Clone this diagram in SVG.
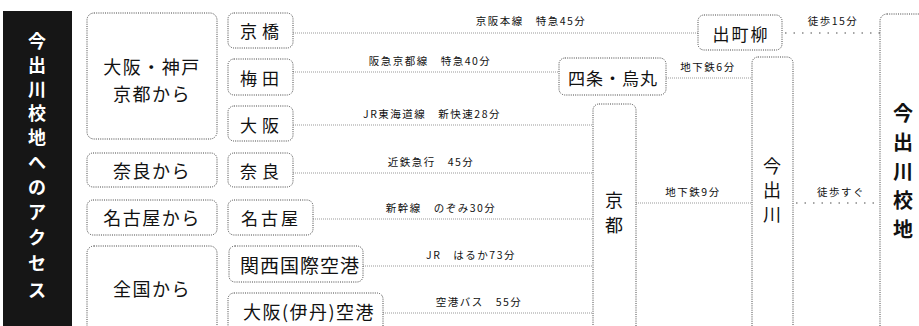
<svg xmlns="http://www.w3.org/2000/svg" width="919" height="326" viewBox="0 0 919 326">
<style>
text{font-family:"Noto Sans CJK JP","Noto Sans",sans-serif;fill:#111;}
.box{fill:#fff;stroke:#444;stroke-width:1;stroke-dasharray:1 1.2;}
.t{font-size:17px;text-anchor:middle;dominant-baseline:central;letter-spacing:1px;}
.t2{font-size:17px;text-anchor:middle;dominant-baseline:central;letter-spacing:5px;}
.big{font-size:18px;text-anchor:middle;dominant-baseline:central;letter-spacing:1.5px;}
.v{font-size:18px;text-anchor:middle;dominant-baseline:central;}
.lbl{font-size:10.5px;text-anchor:middle;letter-spacing:1.5px;}
.ln{stroke:#999;stroke-width:1.2;stroke-dasharray:1 1;fill:none;}
.walk{stroke:#888;stroke-width:1.5;stroke-dasharray:1.5 7;fill:none;}
.title{font-size:18px;fill:#fff;text-anchor:middle;dominant-baseline:central;font-weight:bold;}
</style>
<rect width="919" height="326" fill="#fff"/>
<g id="title">
<rect x="3" y="11" width="69" height="320" fill="#161616"/>
<text class="title" x="37" y="40">今</text>
<text class="title" x="37" y="64">出</text>
<text class="title" x="37" y="88">川</text>
<text class="title" x="37" y="112">校</text>
<text class="title" x="37" y="136">地</text>
<text class="title" x="37" y="161">へ</text>
<text class="title" x="37" y="186">の</text>
<text class="title" x="37" y="211">ア</text>
<text class="title" x="37" y="236">ク</text>
<text class="title" x="37" y="262">セ</text>
<text class="title" x="37" y="289">ス</text>
</g>
<g id="connectors">
<line class="ln" x1="293" y1="33" x2="698" y2="33"/>
<text class="lbl" x="531" y="25">京阪本線　特急45分</text>
<line class="ln" x1="293" y1="72" x2="559" y2="72"/>
<text class="lbl" x="430" y="65">阪急京都線　特急40分</text>
<line class="ln" x1="293" y1="125" x2="593" y2="125"/>
<text class="lbl" x="432" y="118">JR東海道線　新快速28分</text>
<line class="ln" x1="293" y1="173" x2="593" y2="173"/>
<text class="lbl" x="431" y="166">近鉄急行　45分</text>
<line class="ln" x1="313" y1="219" x2="593" y2="219"/>
<text class="lbl" x="441" y="212">新幹線　のぞみ30分</text>
<line class="ln" x1="363" y1="266" x2="593" y2="266"/>
<text class="lbl" x="471" y="259">JR　はるか73分</text>
<line class="ln" x1="383" y1="313" x2="593" y2="313"/>
<text class="lbl" x="479" y="306">空港バス　55分</text>
<line class="ln" x1="666" y1="78" x2="752" y2="78"/>
<text class="lbl" x="708" y="71">地下鉄6分</text>
<line class="ln" x1="636" y1="203" x2="752" y2="203"/>
<text class="lbl" x="693" y="196">地下鉄9分</text>
<line class="walk" x1="785" y1="33" x2="880" y2="33"/>
<text class="lbl" x="833" y="25">徒歩15分</text>
<line class="walk" x1="796" y1="203" x2="880" y2="203"/>
<text class="lbl" x="841" y="196">徒歩すぐ</text>
</g>
<g id="from-osaka"><rect class="box" x="87" y="13" width="130" height="126" rx="7"/>
<text class="big" x="152" y="66">大阪・神戸</text><text class="big" x="152" y="93">京都から</text></g>
<g id="from-nara"><rect class="box" x="87" y="153" width="130" height="34" rx="6"/><text class="big" x="152" y="170">奈良から</text></g>
<g id="from-nagoya"><rect class="box" x="87" y="200" width="130" height="35" rx="6"/><text class="big" x="152" y="217">名古屋から</text></g>
<g id="from-all"><rect class="box" x="87" y="246" width="130" height="90" rx="7"/><text class="big" x="152" y="288">全国から</text></g>
<g id="keihashi"><rect class="box" x="228" y="13" width="65" height="35" rx="6"/><text class="t2" x="262" y="30">京橋</text></g>
<g id="umeda"><rect class="box" x="228" y="59" width="65" height="36" rx="6"/><text class="t2" x="262" y="77">梅田</text></g>
<g id="osaka"><rect class="box" x="228" y="106" width="65" height="35" rx="6"/><text class="t2" x="262" y="124">大阪</text></g>
<g id="nara"><rect class="box" x="228" y="153" width="65" height="34" rx="6"/><text class="t2" x="262" y="170">奈良</text></g>
<g id="nagoya"><rect class="box" x="228" y="200" width="85" height="35" rx="6"/><text class="t" x="271" y="217" style="letter-spacing:3px">名古屋</text></g>
<g id="kix"><rect class="box" x="229" y="246" width="134" height="36" rx="6"/><text class="t" x="300" y="264" style="font-size:19px">関西国際空港</text></g>
<g id="itami"><rect class="box" x="228" y="293" width="155" height="40" rx="6"/><text class="t" x="309" y="311" style="font-size:18px;letter-spacing:1.5px">大阪(伊丹)空港</text></g>
<g id="shijo"><rect class="box" x="559" y="58" width="107" height="37" rx="6"/><text class="t" x="613" y="77">四条・烏丸</text></g>
<g id="demachi"><rect class="box" x="698" y="15" width="84" height="35" rx="6"/><text class="t" x="741" y="33" style="letter-spacing:2px">出町柳</text></g>
<g id="kyoto"><rect class="box" x="593" y="104" width="43" height="232" rx="6"/><text class="v" x="614" y="199">京</text><text class="v" x="614" y="224">都</text></g>
<g id="imadegawa"><rect class="box" x="752" y="57" width="41" height="279" rx="6"/><text class="v" x="772" y="165">今</text><text class="v" x="772" y="189">出</text><text class="v" x="772" y="213">川</text></g>
<g id="campus"><rect class="box" x="880" y="14" width="50" height="322" rx="7"/>
<text class="v" x="903" y="112" style="font-size:20px;font-weight:bold">今</text><text class="v" x="903" y="141" style="font-size:20px;font-weight:bold">出</text><text class="v" x="903" y="170" style="font-size:20px;font-weight:bold">川</text><text class="v" x="903" y="199" style="font-size:20px;font-weight:bold">校</text><text class="v" x="903" y="228" style="font-size:20px;font-weight:bold">地</text></g>
</svg>
